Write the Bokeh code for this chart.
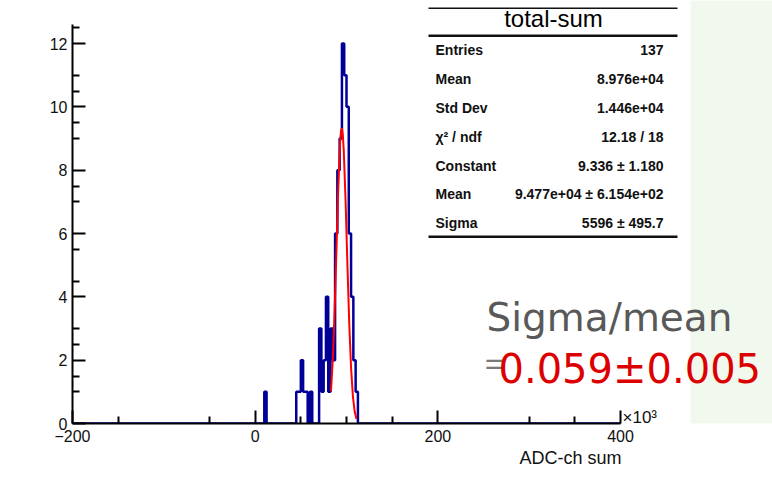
import numpy as np
from bokeh.plotting import figure
from bokeh.models import Range1d, FixedTicker, Label, BoxAnnotation, Title
from bokeh.embed import file_html
from bokeh.resources import INLINE

# ---------------- data (x in units of 10^3 ADC-ch) ----------------
hist_min, hist_max, bin_width = -200.0, 400.0, 2.5
bin_low = [10, 45, 47.5, 50, 52.5, 55, 60, 70, 72.5, 75, 77.5, 80, 82.5, 85,
           87.5, 90, 92.5, 95, 97.5, 100, 102.5, 105, 107.5, 110]
bin_count = [1, 1, 1, 2, 1, 1, 1, 3, 1, 2, 4, 1, 3, 2,
             6, 8, 9, 12, 11, 10, 6, 4, 2, 1]

fit_x = [83, 85, 87, 89, 91, 93, 94, 95, 96, 97, 99, 101, 103, 105, 107, 109, 111]
fit_y = [1.02, 2.03, 3.56, 5.49, 7.44, 8.88, 9.25, 9.33, 9.11, 8.62, 7.01, 5.02,
         3.16, 1.76, 0.86, 0.37, 0.14]

x_ticks = [-200, 0, 200, 400]
x_minor = [-150, -50, 50, 100, 150, 300, 350]
y_ticks = [0, 2, 4, 6, 8, 10, 12]
y_minor = [1, 1.5, 2.5, 3, 4.5, 5.5, 7, 7.5, 9, 9.5, 10.5, 11, 12.5]

stats_title = "total-sum"
stats_names = ["Entries", "Mean", "Std Dev", "\u03c7\u00b2 / ndf", "Constant", "Mean", "Sigma"]
stats_values = ["137", "8.976e+04", "1.446e+04", "12.18 / 18", "9.336 \u00b1 1.180",
                "9.477e+04 \u00b1 6.154e+02", "5596 \u00b1 495.7"]

# ---------------- layout helpers (image pixel -> data) ----------------
W, H = 772, 491
PXK = (620 - 72) / 600.0      # px per 10^3
PXC = (423 - 43) / 12.0       # px per count
def vx(px):
    return -200 + (px - 72) / PXK
def vy(py):
    return (423 - py) / PXC

p = figure(width=W, height=H, output_backend="svg", toolbar_location=None,
           x_range=Range1d(-200, vx(W)), y_range=Range1d(0, vy(0)),
           min_border_left=72, min_border_right=0, min_border_top=0, min_border_bottom=H - 423)
p.outline_line_color = None
p.xgrid.grid_line_color = None
p.ygrid.grid_line_color = None
p.background_fill_color = "white"

# light green strip at the right edge of the slide
p.add_layout(BoxAnnotation(left=vx(690), bottom=vy(H), fill_color="#f1f8ee", fill_alpha=1.0,
                           line_color=None, level="underlay"))

# axes
xa = p.xaxis[0]
xa.ticker = FixedTicker(ticks=x_ticks, minor_ticks=x_minor)
xa.bounds = (-200, 400)
ya = p.yaxis[0]
ya.ticker = FixedTicker(ticks=y_ticks, minor_ticks=y_minor)
ya.bounds = (0, 12.6)
for ax in (xa, ya):
    ax.axis_line_color = "black"
    ax.axis_line_width = 2
    ax.major_tick_in = 13
    ax.major_tick_out = 0
    ax.minor_tick_in = 7
    ax.minor_tick_out = 0
    ax.major_tick_line_width = 2
    ax.minor_tick_line_width = 2
    ax.major_label_text_font = "Liberation Sans"
    ax.major_label_text_font_size = "16px"
    ax.major_label_text_color = "#111111"
xa.major_label_standoff = 6
ya.major_label_standoff = 5

# x axis title, right-aligned at the end of the axis
p.add_layout(Title(text="ADC-ch sum", align="right", offset=W - 621, standoff=2,
                   text_font="Liberation Sans", text_font_size="18px",
                   text_font_style="normal", text_color="#111111"), "below")

# histogram as a step outline
edges = np.arange(hist_min, hist_max + bin_width / 2, bin_width)
counts = np.zeros(len(edges))
for lo, c in zip(bin_low, bin_count):
    counts[int(round((lo - hist_min) / bin_width))] = c
p.step(edges, counts, mode="after", line_color="#000099", line_width=2.5)

# gaussian fit curve
p.line(fit_x, fit_y, line_color="#ff0000", line_width=2)

# y axis title and exponent
p.add_layout(Label(x=vx(27), y=vy(22), text="count", angle=np.pi / 2, text_align="right",
                   text_baseline="middle", text_font="Liberation Sans", text_font_size="18px",
                   text_color="#111111"))
p.add_layout(Label(x=vx(622), y=vy(417), text="\u00d710\u00b3", text_align="left",
                   text_baseline="middle", text_font="Liberation Sans", text_font_size="17px",
                   text_color="#111111"))

# stats box
box_l, box_r = vx(428), vx(677)
for top_px, h in [(7, 1.5), (34, 2.5), (235, 2.5)]:
    p.add_layout(BoxAnnotation(left=box_l, right=box_r, top=vy(top_px), bottom=vy(top_px + h),
                               fill_color="#111111", fill_alpha=1.0, line_color=None))
p.add_layout(Label(x=vx(553), y=vy(18), text=stats_title, text_align="center",
                   text_baseline="middle", text_font="Liberation Sans", text_font_size="24px",
                   text_color="black"))
row_px = [49, 78, 107, 136, 165, 193, 222]
for name, val, ry in zip(stats_names, stats_values, row_px):
    p.add_layout(Label(x=vx(435), y=vy(ry), text=name, text_align="left", text_baseline="middle",
                       text_font="Liberation Sans", text_font_size="14px", text_font_style="bold",
                       text_color="#111111"))
    p.add_layout(Label(x=vx(663), y=vy(ry), text=val, text_align="right", text_baseline="middle",
                       text_font="Liberation Sans", text_font_size="14px", text_font_style="bold",
                       text_color="#111111"))

# resolution annotation
p.add_layout(Label(x=vx(486), y=vy(317), text="Sigma/mean", text_align="left",
                   text_baseline="alphabetic", text_font="DejaVu Sans", text_font_size="39px",
                   text_color="#595959"))
p.add_layout(Label(x=vx(484), y=vy(363), text="=", text_align="left",
                   text_baseline="alphabetic", text_font="Open Sans", text_font_size="34px",
                   text_color="#7a7a7a"))
p.add_layout(Label(x=vx(498), y=vy(368), text="0.059\u00b10.005", text_align="left",
                   text_baseline="alphabetic", text_font="DejaVu Sans", text_font_size="40px",
                   text_color="#dd0000"))

open("out.html", "w").write(file_html(p, INLINE))
